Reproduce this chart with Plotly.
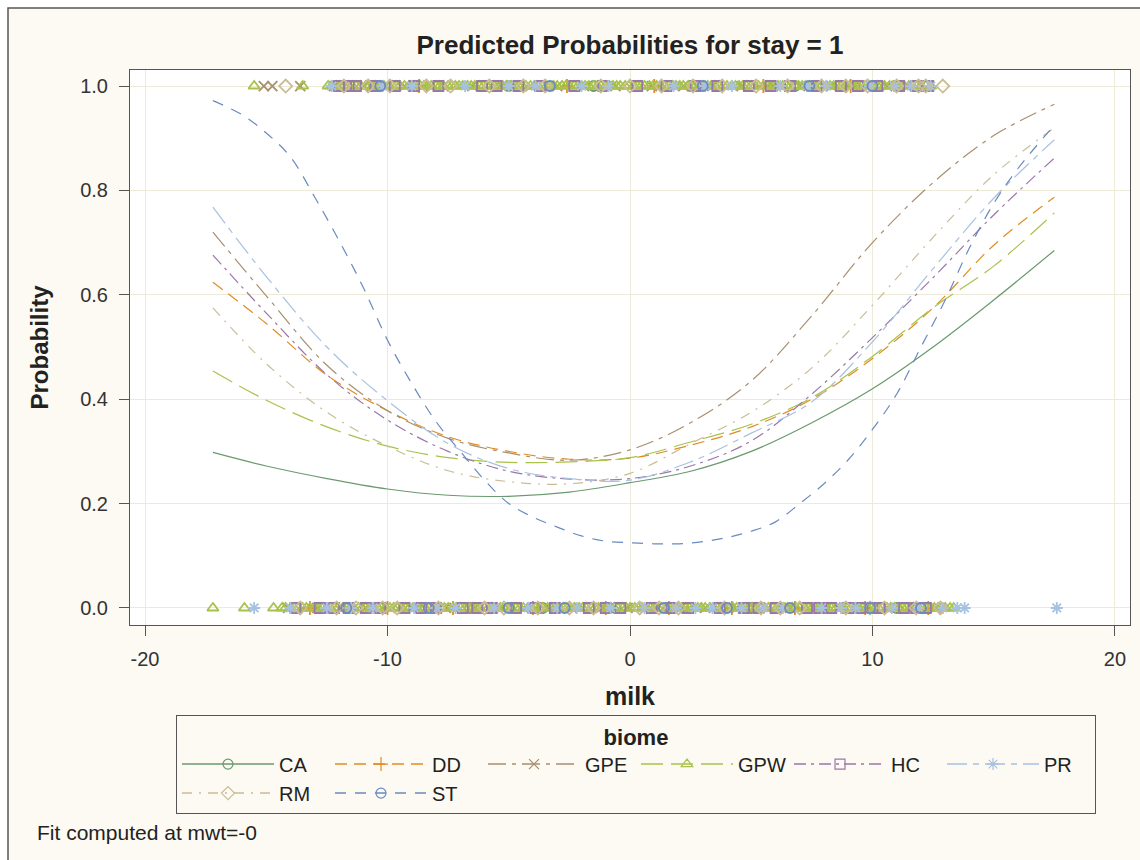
import plotly.graph_objects as go

# ---------------- data ----------------
biomes = ["CA", "DD", "GPE", "GPW", "HC", "PR", "RM", "ST"]

milk_grid = [-17.2, -15.0, -12.5, -10.0, -7.5, -5.0, -2.5, 0.0, 2.5, 5.0, 7.5, 10.0, 12.5, 15.0, 17.5]

prob_CA  = [0.298, 0.272, 0.248, 0.228, 0.216, 0.214, 0.222, 0.240, 0.262, 0.300, 0.355, 0.420, 0.500, 0.590, 0.685]
prob_DD  = [0.624, 0.545, 0.446, 0.378, 0.328, 0.300, 0.285, 0.287, 0.312, 0.347, 0.400, 0.478, 0.575, 0.695, 0.787]
prob_GPE = [0.720, 0.598, 0.465, 0.378, 0.325, 0.297, 0.283, 0.303, 0.355, 0.435, 0.560, 0.700, 0.815, 0.905, 0.965]
prob_GPW = [0.454, 0.398, 0.347, 0.310, 0.288, 0.279, 0.280, 0.288, 0.318, 0.352, 0.403, 0.482, 0.575, 0.655, 0.757]
prob_HC  = [0.676, 0.565, 0.447, 0.360, 0.300, 0.262, 0.247, 0.248, 0.272, 0.320, 0.410, 0.518, 0.633, 0.753, 0.862]
prob_PR  = [0.768, 0.635, 0.500, 0.397, 0.315, 0.267, 0.248, 0.245, 0.280, 0.335, 0.395, 0.510, 0.650, 0.785, 0.897]
prob_RM  = [0.575, 0.468, 0.375, 0.310, 0.263, 0.242, 0.238, 0.258, 0.315, 0.375, 0.460, 0.580, 0.710, 0.830, 0.920]

milk_grid_ST = [-17.2, -16, -15, -14, -13, -12, -11, -10, -9, -8, -7, -6, -5, -4, -3, -2, -1, 0,
                1, 2, 3, 4, 5, 6, 7, 8, 9, 10, 11, 12, 13, 14, 15, 16, 17.5]
prob_ST = [0.972, 0.945, 0.910, 0.864, 0.787, 0.704, 0.614, 0.513, 0.430, 0.357, 0.300, 0.245,
           0.200, 0.174, 0.155, 0.138, 0.128, 0.125, 0.123, 0.123, 0.127, 0.135, 0.147, 0.165,
           0.200, 0.238, 0.284, 0.342, 0.410, 0.500, 0.590, 0.690, 0.775, 0.842, 0.925]

# observed milk values for stay = 1
obs1_CA  = [-5.0, -1.5, 2.5, 6.8]
obs1_DD  = [-8.7, -2.6, 1.0, 5.5, 9.1]
obs1_GPE = [-15.1, -14.75, -13.6, -12.2, -11.0, -10.1, -9.3, -8.2, -7.7, -6.5, -5.3, -4.1, -3.0,
            -1.9, -0.6, 0.9, 2.2, 3.4, 4.6, 5.9, 7.0, 8.3, 9.5, 10.6, 11.4]
obs1_GPW = [-15.5, -13.5, -12.45, -12.3, -12.1, -11.95, -11.8, -11.6, -11.45, -11.3, -11.1, -10.9,
            -10.75, -10.6, -10.5, -10.3, -10.15, -9.95, -9.8, -9.65, -9.5, -9.3, -9.1, -8.95,
            -8.85, -8.65, -8.5, -8.35, -8.2, -8.0, -7.85, -7.7, -7.5, -7.35, -7.2, -7.05, -6.9,
            -6.7, -6.55, -6.4, -6.2, -6.05, -5.9, -5.75, -5.6, -5.4, -5.25, -5.1, -4.9, -4.75,
            -4.6, -4.45, -4.3, -4.1, -3.95, -3.8, -3.6, -3.45, -3.3, -3.15, -3.0, -2.8, -2.65,
            -2.5, -2.3, -2.15, -2.0, -1.85, -1.7, -1.5, -1.35, -1.2, -1.0, -0.85, -0.7, -0.55,
            -0.4, -0.2, -0.05, 0.15, 0.3, 0.45, 0.6, 0.8, 0.95, 1.1, 1.25, 1.45, 1.6, 1.75, 1.9,
            2.05, 2.2, 2.4, 2.55, 2.7, 2.9, 3.05, 3.2, 3.35, 3.5, 3.7, 3.85, 4.0, 4.2, 4.35, 4.5,
            4.65, 4.8, 5.0, 5.15, 5.3, 5.5, 5.65, 5.8, 5.95, 6.1, 6.3, 6.45, 6.6, 6.8, 6.95, 7.1,
            7.25, 7.4, 7.6, 7.75, 7.9, 8.1, 8.25, 8.4, 8.55, 8.7, 8.9, 9.05, 9.2, 9.4, 9.55, 9.7,
            9.85, 10.0, 10.2, 10.35, 10.5, 10.7, 10.85, 11.0, 11.15, 11.3, 11.5, 11.65, 11.8,
            12.0, 12.2, 12.4]
obs1_HC  = [-12.0, -11.6, -11.3, -10.5, -9.7, -8.9, -7.9, -6.1, -5.5, -4.6, -3.7, -2.3, -1.1, 0.3,
            1.5, 2.7, 3.6, 4.9, 5.8, 6.6, 7.7, 8.7, 9.4, 10.2, 11.1, 11.8, 12.3]
obs1_PR  = [-12.3, -10.2, -9.0, -6.8, -5.0, -3.9, -2.0, -0.9, 1.8, 3.1, 4.2, 6.2, 7.3, 8.1, 9.9,
            10.9, 11.6, 12.4]
obs1_RM  = [-14.2, -11.8, -10.8, -9.9, -8.4, -7.4, -5.8, -4.4, -3.5, -1.2, 0.0, 1.3, 2.6, 3.8, 5.2,
            6.5, 7.9, 8.9, 9.8, 11.0, 11.9, 12.2, 12.9]
obs1_ST  = [-10.3, -3.3, 3.0, 7.4, 10.0]

# observed milk values for stay = 0
obs0_CA  = [-12.6, -9.2, -6.6, -3.6, -0.6, 2.2, 5.0, 8.0, 11.0]
obs0_DD  = [-13.2, -10.0, -7.3, -4.0, -1.0, 1.6, 4.2, 6.8, 9.7, 12.3]
obs0_GPE = [-14.1, -12.9, -11.9, -10.9, -9.9, -8.7, -7.6, -6.4, -5.3, -4.4, -3.4, -2.4, -1.2, -0.1,
            1.1, 2.1, 3.1, 4.4, 5.1, 5.7, 6.6, 7.7, 8.6, 9.6, 10.6, 11.6, 12.6]
obs0_GPW = [-17.2, -15.9, -14.7, -14.35, -14.2, -14.0, -13.85, -13.7, -13.5, -13.35, -13.2,
            -13.0, -12.85, -12.7, -12.5, -12.35, -12.2, -12.05, -11.85, -11.7, -11.55, -11.4,
            -11.2, -11.05, -10.9, -10.7, -10.55, -10.4, -10.25, -10.1, -9.9, -9.75, -9.6, -9.4,
            -9.25, -9.1, -8.95, -8.8, -8.6, -8.45, -8.3, -8.1, -7.95, -7.8, -7.65, -7.5, -7.3,
            -7.15, -7.0, -6.8, -6.65, -6.5, -6.35, -6.2, -6.0, -5.85, -5.7, -5.5, -5.35, -5.2,
            -5.05, -4.9, -4.7, -4.55, -4.4, -4.2, -4.05, -3.9, -3.75, -3.6, -3.4, -3.25, -3.1,
            -2.9, -2.75, -2.6, -2.45, -2.3, -2.1, -1.95, -1.8, -1.6, -1.45, -1.3, -1.15, -1.0,
            -0.8, -0.65, -0.5, -0.3, -0.15, 0.0, 0.2, 0.35, 0.5, 0.7, 0.85, 1.0, 1.15, 1.3, 1.5,
            1.65, 1.8, 2.0, 2.15, 2.3, 2.45, 2.6, 2.8, 2.95, 3.1, 3.3, 3.45, 3.6, 3.75, 3.9, 4.1,
            4.25, 4.4, 4.6, 4.75, 4.9, 5.05, 5.2, 5.4, 5.55, 5.7, 5.9, 6.05, 6.2, 6.35, 6.5, 6.7,
            6.85, 7.0, 7.2, 7.35, 7.5, 7.65, 7.8, 8.0, 8.15, 8.3, 8.5, 8.65, 8.8, 8.95, 9.1, 9.3,
            9.45, 9.6, 9.8, 9.95, 10.1, 10.25, 10.4, 10.6, 10.75, 10.9, 11.1, 11.25, 11.4, 11.55,
            11.7, 11.9, 12.05, 12.2, 12.4, 12.55, 12.7, 12.85, 13.0, 13.2, 13.35]
obs0_HC  = [-13.8, -12.8, -12.2, -11.6, -10.9, -10.3, -9.3, -8.6, -8.0, -6.9, -6.3, -5.7, -4.7,
            -3.9, -3.1, -1.7, -1.0, -0.4, 0.9, 1.7, 2.4, 3.7, 4.7, 5.3, 6.0, 7.3, 7.8, 8.3, 9.0,
            9.5, 10.0, 10.3, 11.3, 11.8, 12.2]
obs0_PR  = [-15.5, -14.0, -12.5, -11.5, -10.6, -8.9, -8.0, -7.2, -5.6, -4.2, -3.0, -2.2, -0.8,
            0.6, 1.9, 2.7, 3.4, 4.6, 5.5, 6.3, 7.9, 8.7, 9.3, 10.8, 11.9, 12.9, 13.5, 13.8, 17.6]
obs0_RM  = [-13.6, -12.1, -11.3, -10.2, -9.6, -7.9, -6.0, -5.2, -3.8, -2.5, -1.5, 0.4, 1.2, 2.0,
            3.9, 5.4, 6.2, 7.0, 8.9, 9.9, 10.5, 11.8, 12.8]
obs0_ST  = [-11.7, -8.3, -5.0, -2.7, 1.4, 4.0, 6.6, 9.9, 12.0]

x_ticks = [-20, -10, 0, 10, 20]
y_ticks = [0.0, 0.2, 0.4, 0.6, 0.8, 1.0]

# ---------------- styles ----------------
curves = dict(CA=(milk_grid, prob_CA), DD=(milk_grid, prob_DD), GPE=(milk_grid, prob_GPE),
              GPW=(milk_grid, prob_GPW), HC=(milk_grid, prob_HC), PR=(milk_grid, prob_PR),
              RM=(milk_grid, prob_RM), ST=(milk_grid_ST, prob_ST))
obs1 = dict(CA=obs1_CA, DD=obs1_DD, GPE=obs1_GPE, GPW=obs1_GPW, HC=obs1_HC, PR=obs1_PR, RM=obs1_RM, ST=obs1_ST)
obs0 = dict(CA=obs0_CA, DD=obs0_DD, GPE=obs0_GPE, GPW=obs0_GPW, HC=obs0_HC, PR=obs0_PR, RM=obs0_RM, ST=obs0_ST)

colors = dict(CA="#6A9A6E", DD="#E08C24", GPE="#A88F6E", GPW="#A8C24C",
              HC="#9B77A9", PR="#A7C1E0", RM="#C9BD96", ST="#6A8AC0")
dashes = dict(CA="solid", DD="12px,7px", GPE="18px,6px,4px,6px", GPW="22px,8px",
              HC="12px,5px,3px,5px", PR="20px,6px,6px,6px", RM="10px,7px,2px,7px", ST="11px,9px")
symbols = dict(CA="circle-open", DD="cross-thin-open", GPE="x-thin-open", GPW="triangle-up-open",
               HC="square-open", PR="asterisk-open", RM="diamond-open", ST="circle-open")

FONT = "Liberation Sans, Arial, sans-serif"

fig = go.Figure()

# observed points
for b in biomes:
    for obs, yv in ((obs0, 0), (obs1, 1)):
        fig.add_trace(go.Scatter(
            x=obs[b], y=[yv] * len(obs[b]), mode="markers",
            marker=dict(symbol=symbols[b], size=10, color=colors[b],
                        line=dict(width=1.8, color=colors[b])),
            showlegend=False, hoverinfo="x+y", name=b))

# fitted curves
for b in biomes:
    xs, ys = curves[b]
    fig.add_trace(go.Scatter(
        x=xs, y=ys, mode="lines",
        line=dict(color=colors[b], width=1.2, dash=dashes[b], shape="spline", smoothing=1.0),
        showlegend=False, name=b))

# legend entries
for b in biomes:
    fig.add_trace(go.Scatter(
        x=[None], y=[None], mode="lines+markers", name=b,
        line=dict(color=colors[b], width=1.5, dash=dashes[b]),
        marker=dict(symbol=symbols[b], size=10, color=colors[b],
                    line=dict(width=1.2, color=colors[b]))))

L, R, T, B = 130, 1130, 70, 625
W, H = 1140, 860
pw, ph = R - L, B - T

def px_x(p):
    return (p - L) / pw

def px_y(p):
    return (B - p) / ph

fig.update_layout(
    width=W, height=H,
    margin=dict(l=L, r=W - R, t=T, b=H - B, autoexpand=False),
    paper_bgcolor="white",
    plot_bgcolor="white",
    font=dict(family=FONT, size=20, color="#333333"),
    title=dict(text="<b>Predicted Probabilities for stay = 1</b>",
               x=0.5, xref="paper", xanchor="center",
               y=1 - 45 / H, yref="container", yanchor="middle",
               font=dict(family=FONT, size=26, color="#222222")),
    xaxis=dict(range=[-20.62, 20.62], tickvals=x_ticks, ticktext=[str(v) for v in x_ticks],
               showline=True, linecolor="#555555", linewidth=1, mirror=True,
               ticks="outside", ticklen=10, tickcolor="#555555", ticklabelstandoff=6,
               showgrid=True, gridcolor="#EEEAD8", gridwidth=1, zeroline=False,
               tickfont=dict(size=20, color="#333333"),
               title=dict(text="<b>milk</b>", standoff=18,
                          font=dict(family=FONT, size=25, color="#222222"))),
    yaxis=dict(range=[-0.0326, 1.0307], tickvals=y_ticks, tickformat=".1f",
               showline=True, linecolor="#555555", linewidth=1, mirror=True,
               ticks="outside", ticklen=10, tickcolor="#555555", ticklabelstandoff=7,
               showgrid=True, gridcolor="#EEEAD8", gridwidth=1, zeroline=False,
               tickfont=dict(size=20, color="#333333"),
               title=dict(text="<b>Probability</b>", standoff=24,
                          font=dict(family=FONT, size=24, color="#222222"))),
    legend=dict(orientation="h", x=px_x(176), xanchor="left", y=px_y(715), yanchor="top",
                bgcolor="#FCFAF2", bordercolor="#555555", borderwidth=1,
                entrywidth=46, entrywidthmode="pixels",
                font=dict(family=FONT, size=20, color="#222222"),
                title=dict(text="<b>biome</b>", side="top center",
                           font=dict(family=FONT, size=22, color="#222222")),
                itemwidth=92),
    shapes=[
        dict(type="rect", xref="paper", yref="paper", layer="below",
             x0=px_x(8), x1=px_x(1160), y0=px_y(880), y1=px_y(8),
             fillcolor="#FCFAF2", line=dict(color="#555555", width=1.5)),
        dict(type="rect", xref="paper", yref="paper", layer="below",
             x0=0, x1=1, y0=0, y1=1, fillcolor="white", line=dict(width=0)),
    ],
    annotations=[
        dict(text="Fit computed at mwt=-0", xref="paper", yref="paper",
             x=px_x(35), y=px_y(832), xanchor="left", yanchor="middle",
             showarrow=False, font=dict(family=FONT, size=21, color="#222222")),
    ],
)

fig.write_html("out.html", config={"displayModeBar": False},
               post_script="document.body.style.margin='0px';document.body.style.padding='0px';")
